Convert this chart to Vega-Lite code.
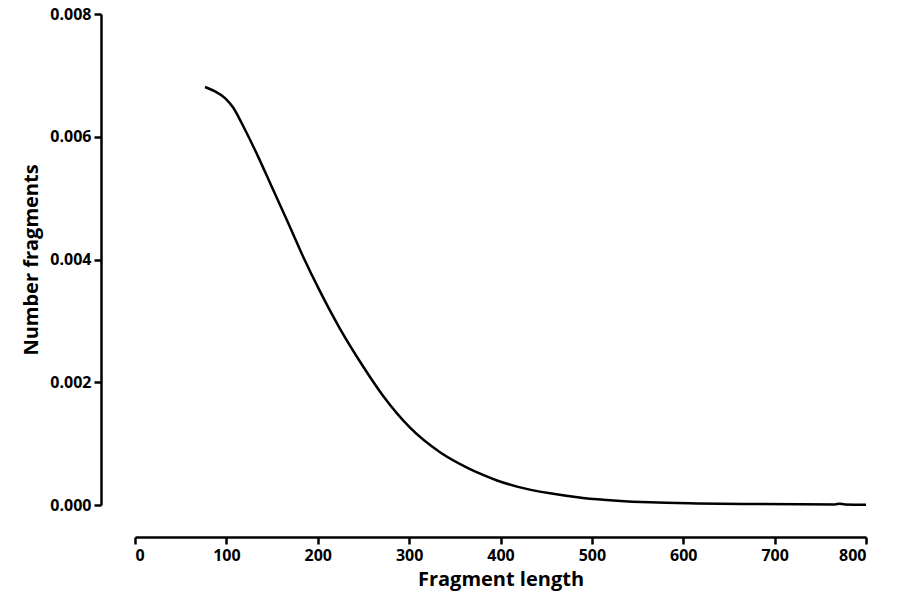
{
  "$schema": "https://vega.github.io/schema/vega-lite/v6.json",
  "width": 731,
  "height": 491,
  "autosize": "none",
  "padding": {"left": 135, "top": 14, "right": 33, "bottom": 105},
  "background": "white",
  "config": {
    "view": {"stroke": null},
    "axis": {
      "grid": false,
      "domainColor": "black",
      "domainWidth": 2.5,
      "tickColor": "black",
      "tickWidth": 2.5,
      "tickSize": 7,
      "labelFont": "Open Sans",
      "labelFontWeight": "bold",
      "labelFontSize": 16,
      "labelColor": "black",
      "titleFont": "Open Sans",
      "titleFontWeight": "bold",
      "titleFontSize": 20,
      "titleColor": "black"
    }
  },
  "data": {
    "values": [
      {"len": 76.6, "frac": 0.00681},
      {"len": 80, "frac": 0.00679},
      {"len": 87.6, "frac": 0.00674},
      {"len": 98.5, "frac": 0.00663},
      {"len": 107.2, "frac": 0.00648},
      {"len": 118.2, "frac": 0.00618},
      {"len": 134.6, "frac": 0.00568},
      {"len": 147.7, "frac": 0.00525},
      {"len": 166.3, "frac": 0.00464},
      {"len": 183.9, "frac": 0.00405},
      {"len": 202.5, "frac": 0.00348},
      {"len": 224.4, "frac": 0.00287},
      {"len": 249.5, "frac": 0.00226},
      {"len": 271.4, "frac": 0.00178},
      {"len": 301.0, "frac": 0.00126},
      {"len": 333.8, "frac": 0.00086},
      {"len": 363.3, "frac": 0.00061},
      {"len": 380.9, "frac": 0.00049},
      {"len": 396.2, "frac": 0.0004},
      {"len": 418.1, "frac": 0.0003},
      {"len": 454.2, "frac": 0.00019},
      {"len": 490.3, "frac": 0.000115},
      {"len": 527.5, "frac": 0.00007},
      {"len": 563.6, "frac": 0.000043},
      {"len": 615, "frac": 0.000026},
      {"len": 673, "frac": 0.000017},
      {"len": 728, "frac": 0.000012},
      {"len": 766, "frac": 0.00001},
      {"len": 771, "frac": 0.00002},
      {"len": 777, "frac": 0.00001},
      {"len": 800, "frac": 0.000006}
    ]
  },
  "mark": {"type": "line", "color": "black", "strokeWidth": 2.5, "interpolate": "monotone"},
  "encoding": {
    "x": {
      "field": "len",
      "type": "quantitative",
      "scale": {"domain": [0, 800], "nice": false, "zero": false},
      "axis": {"title": "Fragment length", "offset": 32, "values": [0,100,200,300,400,500,600,700,800], "labelPadding": 3, "titlePadding": 6}
    },
    "y": {
      "field": "frac",
      "type": "quantitative",
      "scale": {"domain": [0, 0.008], "nice": false},
      "axis": {"title": "Number fragments", "offset": 34, "values": [0,0.002,0.004,0.006,0.008], "format": ".3f", "labelPadding": 3, "titlePadding": 8}
    }
  }
}
